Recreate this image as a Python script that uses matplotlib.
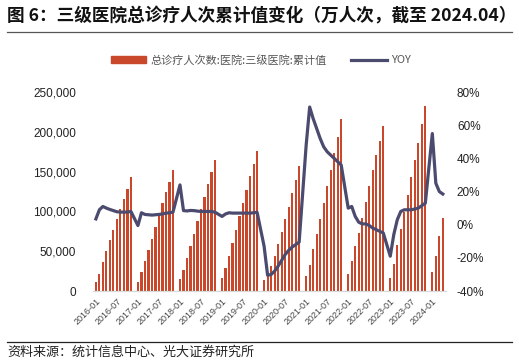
import numpy as np
import matplotlib
matplotlib.use('Agg')
import matplotlib.pyplot as plt
from matplotlib.ticker import FuncFormatter, MultipleLocator

plt.rcParams['font.family'] = ['Noto Sans CJK SC', 'DejaVu Sans']

# %% 数据（每年11个值，年末留空）
v2016 = [11600, 22000, 36600, 50400, 63700, 76200, 90000, 103000, 116000, 128000, 143000]
v2017 = [11600, 23700, 38300, 52000, 66000, 80800, 96700, 111000, 124500, 137500, 152000]
v2018 = [15000, 26000, 41700, 56000, 72000, 88000, 103000, 118700, 134000, 149000, 165000]
v2019 = [15800, 28300, 44000, 60800, 77000, 93700, 110800, 127500, 144000, 160000, 176000]
v2020 = [13700, 20000, 31000, 43700, 58500, 74000, 90000, 106000, 123000, 139000, 157500]
v2021 = [18700, 33300, 52500, 71700, 90800, 110400, 131600, 152500, 174000, 194000, 216000]
v2022 = [20800, 37500, 56200, 73000, 91700, 111600, 131600, 152000, 171000, 188700, 207500]
v2023 = [15800, 33700, 57500, 77500, 99000, 121000, 143000, 165000, 186000, 209600, 232500]
v2024 = [24200, 43700, 68700, 91700]

y2016 = [3.5, 9, 11, 10, 9.2, 8.5, 7.8, 7.6, 7.6, 7.6, 8]
y2017 = [-0.5, 7.2, 6.2, 6, 5.8, 6, 6.2, 6.5, 7, 7.2, 7.6]
y2018 = [24, 8.5, 8.3, 8.6, 8.5, 8.2, 8, 8, 8, 8, 7.5]
y2019 = [5, 6.5, 7.2, 7, 7, 7, 7, 7, 7, 7.2, 7.5]
y2020 = [-13, -30.5, -30, -28, -25, -21.5, -18, -15.5, -13.5, -12, -10.5]
y2021 = [48, 71, 64, 58, 52, 47, 44, 42, 40, 38, 36]
y2022 = [10, 11, 5, 1.5, 0.5, 0.5, -0.5, -2, -3, -4, -5]
y2023 = [-19, -6, 3, 8, 9, 9, 9, 9.5, 10, 11.5, 13]
y2024 = [55, 25, 20, 18.5]

years = list(range(2016, 2025))
vals = [v2016, v2017, v2018, v2019, v2020, v2021, v2022, v2023, v2024]
yoys = [y2016, y2017, y2018, y2019, y2020, y2021, y2022, y2023, y2024]

valor = []
yoy = []
for v, y in zip(vals, yoys):
    valor += v
    yoy += y
    if len(v) == 11:
        valor.append(np.nan)
        yoy.append(np.nan)

n = len(valor)
x = np.arange(n)
etiquetas = [f'{yy}-{mm:02d}' for yy in years for mm in range(1, 13)][:n]

color_barra = '#C9472A'
color_linea = '#4B4B6F'
gris = '#444444'

# %% Figura
fig = plt.figure(figsize=(5.19, 3.64), dpi=100)
ax = fig.add_axes([0.179, 0.2005, 0.68, 0.5465])
ax2 = ax.twinx()

ax.bar(x, valor, width=0.62, color=color_barra, edgecolor='none', zorder=2)
ok = ~np.isnan(np.array(yoy))
ax2.plot(x[ok], np.array(yoy)[ok], color=color_linea, lw=2.3, zorder=3,
         solid_joinstyle='round')

ax.set_xlim(-0.85, n - 1 + 0.85)
ax.set_ylim(0, 250000)
ax.yaxis.set_major_locator(MultipleLocator(50000))
ax.yaxis.set_major_formatter(FuncFormatter(lambda v, p: f'{int(v):,}'))
ax2.set_ylim(-40, 80)
ax2.yaxis.set_major_locator(MultipleLocator(20))
ax2.yaxis.set_major_formatter(FuncFormatter(lambda v, p: f'{int(v)}%'))

ax.set_xticks(x[::6])
ax.set_xticklabels(etiquetas[::6], rotation=45, ha='right', rotation_mode='anchor',
                   fontsize=6.5, color=gris, family='Liberation Sans')

for a in (ax, ax2):
    for s in ['top', 'left', 'right']:
        a.spines[s].set_visible(False)
    a.spines['bottom'].set_color('#D9D9D9')
    a.tick_params(length=0)
ax.tick_params(axis='x', pad=4)
ax.tick_params(axis='y', pad=12, labelsize=8.5, labelcolor='#222222')
ax2.tick_params(axis='y', pad=8, labelsize=8.5, labelcolor='#222222')
for t in ax.get_yticklabels() + ax2.get_yticklabels():
    t.set_family('Liberation Sans')

# %% Leyenda
h1 = plt.Rectangle((0, 0), 1, 1, color=color_barra)
h2 = plt.Line2D([0], [0], color=color_linea, lw=2.3)
fig.legend([h1, h2], ['总诊疗人次数:医院:三级医院:累计值', 'YOY'], loc='center',
           bbox_to_anchor=(0.503, 0.835), ncol=2, frameon=False, fontsize=8,
           handlelength=3.2, handleheight=0.5, columnspacing=2.2, handletextpad=0.4,
           labelcolor='#555555')

# %% Título y fuente
fig.text(0.013, 0.955, '图 6：三级医院总诊疗人次累计值变化（万人次，截至 2024.04）',
         fontsize=12.7, fontweight='bold', color='#111111', va='center')
fig.add_artist(plt.Line2D([0.013, 0.987], [0.913, 0.913], color='#555555', lw=0.9))
fig.add_artist(plt.Line2D([0.013, 0.987], [0.06, 0.06], color='#222222', lw=0.9))
fig.text(0.015, 0.032, '资料来源：统计信息中心、光大证券研究所', fontsize=9.4,
         color='#222222', va='center')

plt.savefig('out.png', dpi=100)
